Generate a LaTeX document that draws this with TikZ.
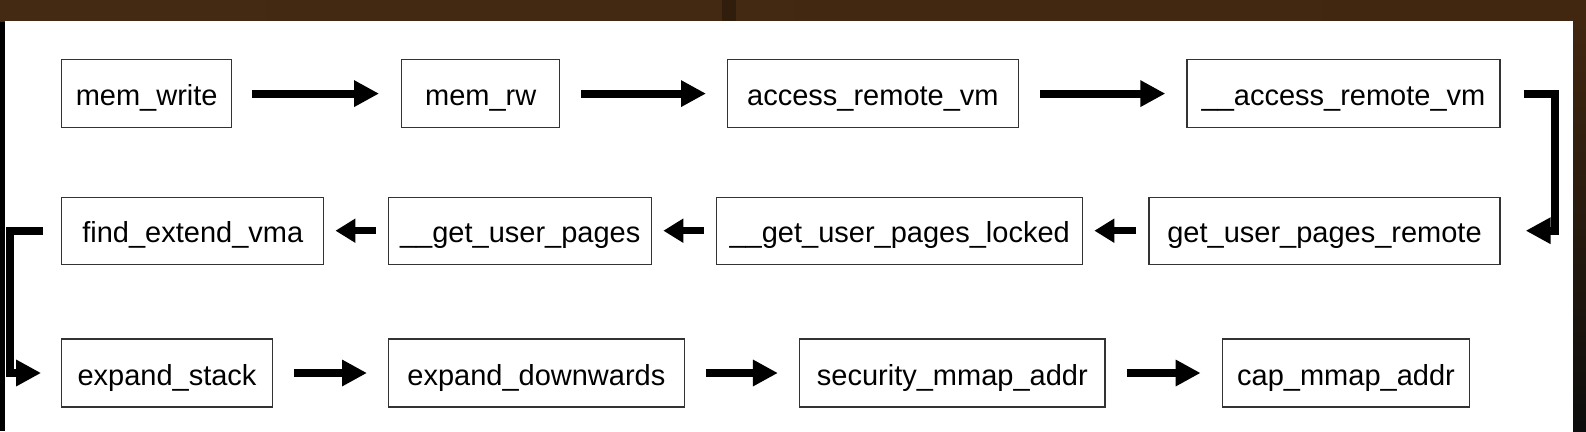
\documentclass[tikz,border=0pt]{standalone}
\usepackage{fontspec}
\setmainfont{Liberation Sans}
\usetikzlibrary{arrows.meta}
\definecolor{bandL}{HTML}{442A12}
\definecolor{bandM}{HTML}{5A3A18}
\definecolor{bandR}{HTML}{412710}
\definecolor{boxline}{HTML}{333333}
\begin{document}
\begin{tikzpicture}[x=1pt,y=-1pt,
  box/.style={draw=boxline, line width=1.3pt, minimum height=68pt, inner sep=0pt,
    font=\fontsize{29}{33}\selectfont, text height=26pt, text depth=2pt},
  rarrow/.style={line width=8pt, -{Triangle[length=25pt,width=25pt]}, shorten <=21pt, shorten >=21pt},
  larrow/.style={line width=7pt, -{Triangle[length=20pt,width=23pt]}, shorten <=12pt, shorten >=11pt},
  bracket/.style={line width=8pt, line join=miter, -{Triangle[length=25pt,width=25pt]}}]
\useasboundingbox (0,0) rectangle (1586,431);
% background
\fill[black] (0,0) rectangle (1586,431);
\shade[left color=bandL, middle color=bandM, right color=bandR] (0,0) rectangle (1586,21);
\fill[bandR!75!black] (722,0) rectangle (736,21);
\shade[top color=bandR, bottom color=black!95] (1573,21) rectangle (1586,431);
\fill[white] (5,21) rectangle (1573,431);
% row 1
\node[box, minimum width=170pt]   (mw)  at (146.7,93.6)  {mem\_write};
\node[box, minimum width=158pt]   (mrw) at (480.7,93.6)  {mem\_rw};
\node[box, minimum width=290.5pt] (arv) at (872.9,93.6)  {access\_remote\_vm};
\node[box, minimum width=313pt]   (uarv) at (1343.5,93.6) {\_\_access\_remote\_vm};
% row 2
\node[box, minimum width=262pt, minimum height=67pt] (fev)  at (192.8,230.7) {find\_extend\_vma};
\node[box, minimum width=263pt, minimum height=67pt] (gup)  at (520.2,230.7) {\_\_get\_user\_pages};
\node[box, minimum width=366pt, minimum height=67pt] (gupl) at (899.7,230.7) {\_\_get\_user\_pages\_locked};
\node[box, minimum width=351pt, minimum height=67pt] (gupr) at (1324.5,230.7) {get\_user\_pages\_remote};
% row 3
\node[box, minimum width=210.5pt] (es)  at (167,373)    {expand\_stack};
\node[box, minimum width=295.5pt] (ed)  at (536.4,373)  {expand\_downwards};
\node[box, minimum width=305.5pt] (sma) at (952.3,373)  {security\_mmap\_addr};
\node[box, minimum width=247.5pt] (cma) at (1346,373)   {cap\_mmap\_addr};
% arrows row 1
\draw[rarrow, shorten <=20pt, shorten >=22pt] (mw) -- (mrw);
\draw[rarrow] (mrw) -- (arv);
\draw[rarrow] (arv) -- (uarv);
% bracket right
\draw[bracket] ([xshift=23pt]uarv.east) -- ([xshift=54pt]uarv.east) |- ([xshift=25pt]gupr.east);
% row 2
\draw[larrow] (gupr) -- (gupl);
\draw[larrow] (gupl) -- (gup);
\draw[larrow] (gup) -- (fev);
% bracket left
\draw[bracket] ([xshift=-18pt]fev.west) -- ([xshift=-51pt]fev.west) |- ([xshift=-20pt]es.west);
% row 3
\draw[rarrow] (es) -- (ed);
\draw[rarrow] (ed) -- (sma);
\draw[rarrow] (sma) -- (cma);
\end{tikzpicture}
\end{document}
